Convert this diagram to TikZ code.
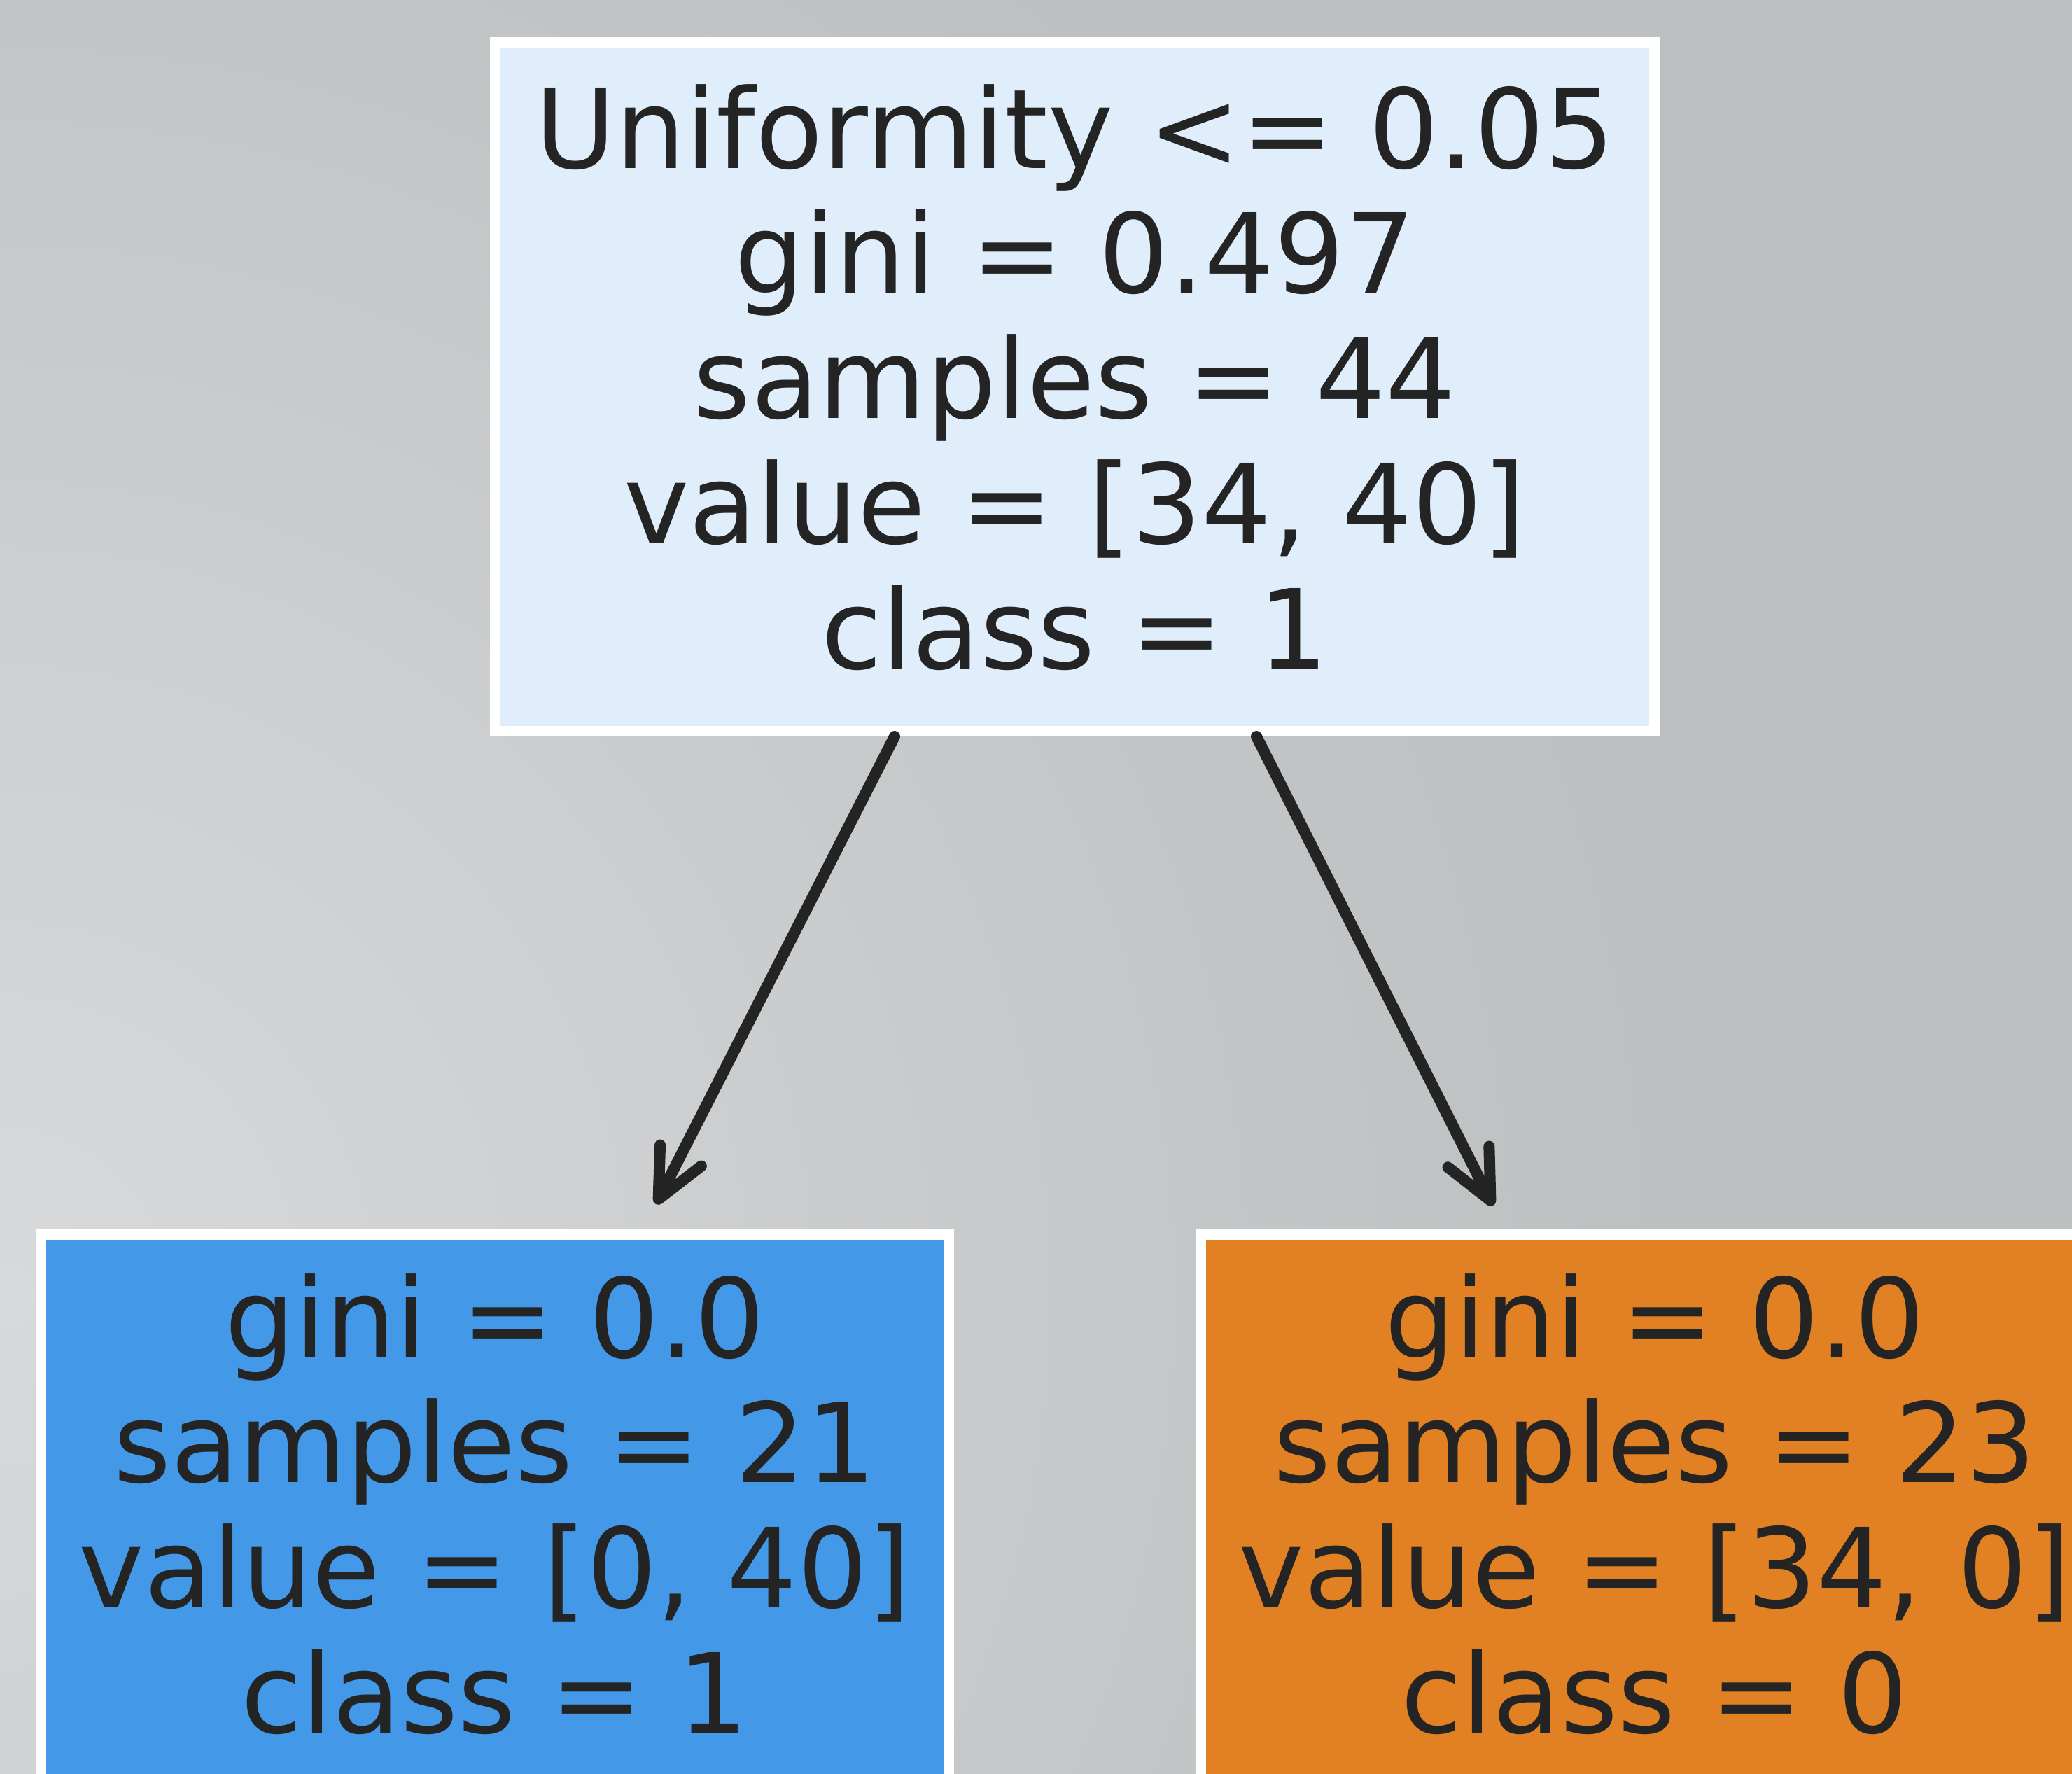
\documentclass[tikz,border=0pt]{standalone}
\usepackage{fontspec}
\setmainfont{DejaVu Sans}
\usetikzlibrary{arrows.meta,calc}
\definecolor{bgdark}{RGB}{188,192,193}
\definecolor{bglight}{RGB}{216,217,219}
\definecolor{rootfill}{RGB}{224,238,251}
\definecolor{bluefill}{RGB}{67,153,232}
\definecolor{orangefill}{RGB}{225,129,35}
\definecolor{ink}{RGB}{36,36,36}
\begin{document}
\begin{tikzpicture}[
  treebox/.style={draw=white, line width=0.15cm, inner sep=0pt, rectangle},
  treetext/.style={text=ink, align=center, inner sep=0pt, font=\fontsize{44.9}{50.9}\selectfont},
  edge/.style={draw=ink, line width=0.16cm, line cap=round,
    -{Straight Barb[length=0.7cm,width=0.66cm,line cap=round,line join=round]}}
]
\useasboundingbox (0,0) rectangle (29.6,-25.33);
\clip (0,0) rectangle (29.6,-25.33);
\fill[bgdark] (0,0) rectangle (29.6,-25.33);
\shade[inner color=bglight, outer color=bgdark] (0,-18.5) circle (24);

\node[treebox, fill=rootfill, minimum width=16.56cm, minimum height=9.84cm] (root) at (15.355,-5.525) {};
\node[treetext] (rootT) at (15.355,-5.39) {Uniformity <= 0.05\\gini = 0.497\\samples = 44\\value = [34, 40]\\class = 1};

\node[treebox, fill=bluefill, minimum width=12.97cm, minimum height=8.04cm] (leafL) at (7.07,-21.655) {};
\node[treetext] (leafLT) at (7.07,-21.485) {gini = 0.0\\samples = 21\\value = [0, 40]\\class = 1};

\node[treebox, fill=orangefill, minimum width=12.97cm, minimum height=8.04cm] (leafR) at (23.64,-21.655) {};
\node[treetext] (leafRT) at (23.64,-21.485) {gini = 0.0\\samples = 23\\value = [34, 0]\\class = 0};

\draw[edge] ($(root.south)+(-2.575,0)$) -- ($(leafL.north)+(2.30,0.36)$);
\draw[edge] ($(root.south)+(2.595,0)$) -- ($(leafR.north)+(-2.31,0.34)$);
\end{tikzpicture}
\end{document}
